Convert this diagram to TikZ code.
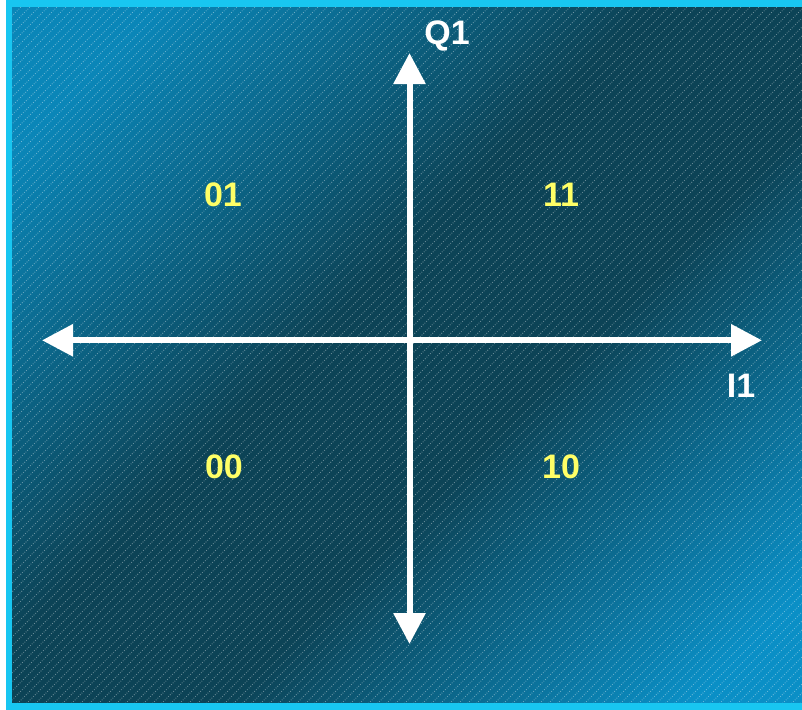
\documentclass[tikz,border=0pt]{standalone}
\usepackage{fontspec}
\setmainfont{Liberation Sans}
\usetikzlibrary{arrows.meta}
\definecolor{bglight}{HTML}{0A86B8}
\definecolor{bgdark}{HTML}{0C4356}
\definecolor{bglight2}{HTML}{0A8FC6}
\definecolor{framecyan}{HTML}{18C6F1}
\definecolor{labyellow}{HTML}{FFFF66}
\pgfdeclarehorizontalshading{bgshade}{100bp}{color(0bp)=(bglight); color(22bp)=(bglight); color(45bp)=(bgdark); color(58bp)=(bgdark); color(80bp)=(bglight2); color(100bp)=(bglight2)}
\tikzset{
  axisline/.style={draw=white, line width=6pt, -{Triangle[length=31pt,width=31pt]}},
  quad/.style={text=labyellow, font=\fontsize{34}{38}\selectfont\bfseries, inner sep=0pt},
  axlabel/.style={text=white, font=\fontsize{34}{38}\selectfont\bfseries, inner sep=0pt}
}
\begin{document}
\begin{tikzpicture}[x=1pt,y=-1pt]
\useasboundingbox (0,0) rectangle (802,709);
\fill[white] (0,0) rectangle (802,709);
% background
\begin{scope}
\clip (6,0) rectangle (802,709);
\shade[shading=bgshade, shading angle=-45] (6,0) rectangle (802,709);
\foreach \s in {-720,-711,...,810} {
  \draw[white, opacity=0.4, line width=0.8pt, dash pattern=on 0.8pt off 1.6pt] (\s,712) -- (\s+712,0);
}
\end{scope}
% frame
\draw[framecyan, line width=6.5pt] (9.2,3.5) -- (820,3.5) (9.2,0) -- (9.2,705) (6,706.5) -- (820,706.5);
% axes
\coordinate (L) at (42,340.3);
\coordinate (R) at (762,340.3);
\coordinate (T) at (409.5,53);
\coordinate (B) at (409.5,644);
\coordinate (O) at (409.5,340.3);
\draw[axisline] (O) -- (L);
\draw[axisline] (O) -- (R);
\draw[axisline] (O) -- (T);
\draw[axisline] (O) -- (B);
% labels
\node[axlabel] (q1) at (447,36) {Q1};
\node[axlabel] (i1) at (741,386) {I1};
\node[quad] (n01) at (223,195) {01};
\node[quad] (n11) at (561,195) {11};
\node[quad] (n00) at (224,467) {00};
\node[quad] (n10) at (561,467) {10};
\end{tikzpicture}
\end{document}
